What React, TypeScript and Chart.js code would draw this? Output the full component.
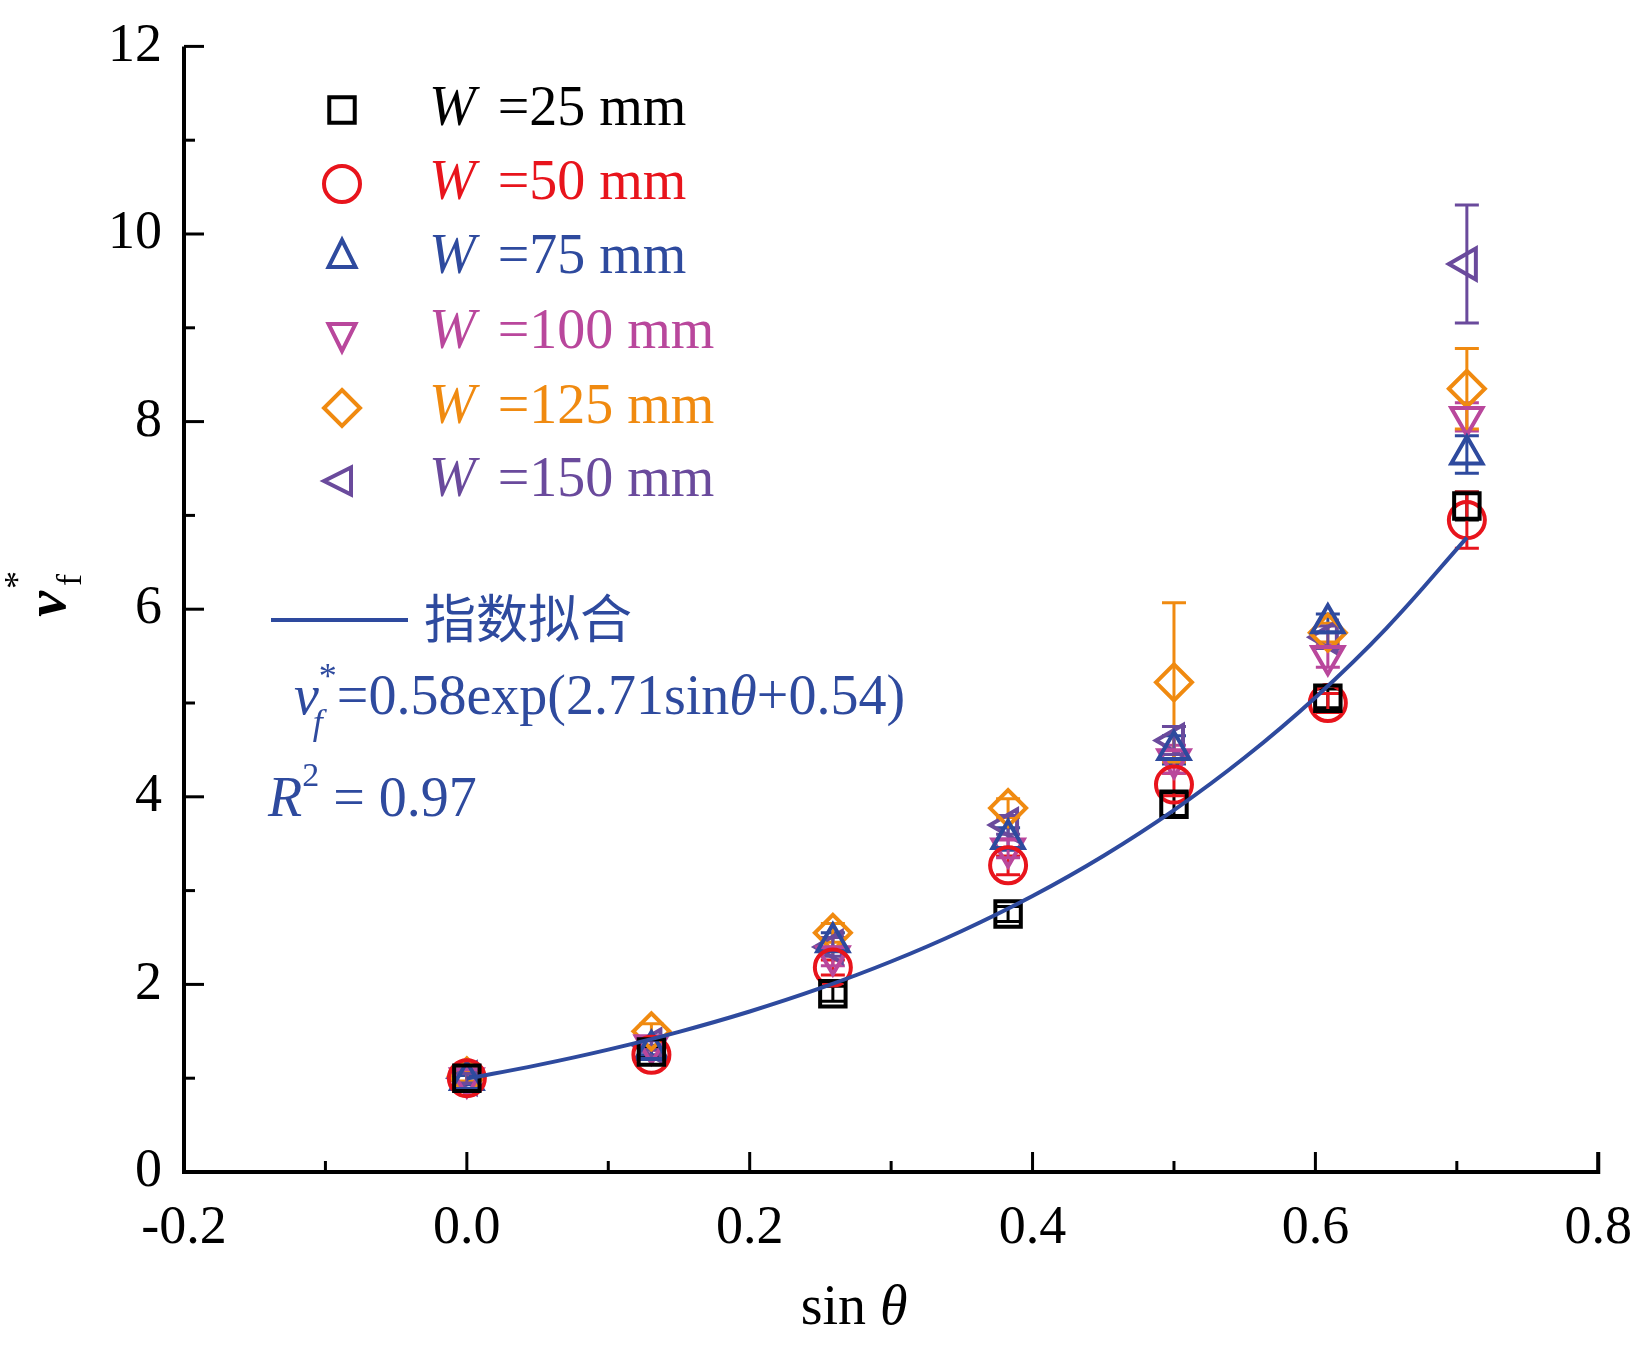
import React, { useEffect, useRef } from "react";
import { Chart, registerables } from "chart.js";
Chart.register(...registerables);

const xs = [0, 0.1305, 0.2588, 0.3827, 0.5, 0.6088, 0.7071];
const labels = ["25", "50", "75", "100", "125", "150"];
const colors = ["#000000", "#e8141c", "#2e4a9e", "#b9479c", "#f08a10", "#6a4a9c"];
const styles = ["rect", "circle", "triangle", "triangle", "rectRot", "triangle"];
const rotations = [0, 0, 0, 180, 0, -90];
const v25 = [1.0, 1.28, 1.9, 2.75, 3.92, 5.05, 7.1];
const v50 = [1.0, 1.25, 2.18, 3.27, 4.13, 5.0, 6.95];
const v75 = [0.98, 1.3, 2.45, 3.55, 4.5, 5.85, 7.65];
const v100 = [1.0, 1.35, 2.3, 3.45, 4.4, 5.5, 8.05];
const v125 = [1.02, 1.5, 2.55, 3.88, 5.22, 5.75, 8.35];
const v150 = [1.0, 1.35, 2.4, 3.7, 4.6, 5.7, 9.68];
const e25 = [0.05, 0.05, 0.08, 0.08, 0.12, 0.1, 0.15];
const e50 = [0.05, 0.05, 0.08, 0.1, 0.12, 0.1, 0.3];
const e75 = [0.05, 0.05, 0.1, 0.12, 0.15, 0.1, 0.2];
const e100 = [0.05, 0.05, 0.1, 0.1, 0.15, 0.12, 0.15];
const e125 = [0.05, 0.08, 0.1, 0.1, 0.85, 0.1, 0.43];
const e150 = [0.05, 0.05, 0.1, 0.1, 0.15, 0.12, 0.63];
const series = [v25, v50, v75, v100, v125, v150];
const errs = [e25, e50, e75, e100, e125, e150];
const fitX = [0, 0.05, 0.1, 0.15, 0.2, 0.25, 0.3, 0.35, 0.4, 0.45, 0.5, 0.55, 0.6, 0.65, 0.7071];
const fitA = 0.58, fitB = 2.71, fitC = 0.54;

const SERIF = "'Liberation Serif', 'DejaVu Serif', serif";

function marker(c: CanvasRenderingContext2D, style: string, rot: number, r: number, x: number, y: number) {
  c.save();
  c.translate(x, y);
  c.rotate((rot * Math.PI) / 180);
  c.beginPath();
  if (style === "circle") c.arc(0, 0, r, 0, Math.PI * 2);
  else if (style === "rect") { const h = r * Math.SQRT1_2; c.rect(-h, -h, 2 * h, 2 * h); }
  else if (style === "rectRot") { c.moveTo(0, -r); c.lineTo(r, 0); c.lineTo(0, r); c.lineTo(-r, 0); c.closePath(); }
  else { const s = r * 0.866 * 1.5; c.moveTo(0, -r); c.lineTo(s * 0.577 * 1.732 / 1.5 * 1.5 * 0.577, r * 0.5); c.lineTo(-s * 0.577 * 1.732 / 1.5 * 1.5 * 0.577, r * 0.5); c.closePath(); }
  c.stroke();
  c.restore();
}

export default function App() {
  const ref = useRef<HTMLCanvasElement>(null);
  useEffect(() => {
    const ctx = ref.current!.getContext("2d")!;
    const datasets: any[] = series.map((s, i) => ({
      type: "scatter",
      data: s.map((v, j) => ({ x: xs[j], y: v })),
      errs: errs[i],
      borderColor: colors[i],
      backgroundColor: "rgba(0,0,0,0)",
      pointStyle: styles[i],
      pointRotation: rotations[i],
      pointRadius: 18,
      borderWidth: 4,
      order: 2,
    }));
    datasets.unshift({
      type: "line",
      data: fitX.map((x) => ({ x, y: fitA * Math.exp(fitB * x + fitC) })),
      borderColor: "#2e4a9e",
      borderWidth: 4,
      pointRadius: 0,
      tension: 0.4,
      order: 1,
    });
    const plugin = {
      id: "extras",
      beforeDatasetsDraw(chart: any) {
        const c = chart.ctx;
        const xS = chart.scales.x, yS = chart.scales.y;
        chart.data.datasets.forEach((d: any) => {
          if (!d.errs) return;
          c.save();
          c.strokeStyle = d.borderColor;
          c.lineWidth = 3;
          d.data.forEach((p: any, j: number) => {
            const px = xS.getPixelForValue(p.x);
            const y1 = yS.getPixelForValue(p.y + d.errs[j]);
            const y2 = yS.getPixelForValue(p.y - d.errs[j]);
            c.beginPath();
            c.moveTo(px, y1); c.lineTo(px, y2);
            c.moveTo(px - 12, y1); c.lineTo(px + 12, y1);
            c.moveTo(px - 12, y2); c.lineTo(px + 12, y2);
            c.stroke();
          });
          c.restore();
        });
      },
      afterDraw(chart: any) {
        const c = chart.ctx;
        const xS = chart.scales.x, yS = chart.scales.y;
        const a = chart.chartArea;
        c.save();
        c.strokeStyle = "#000";
        c.lineWidth = 4;
        c.beginPath();
        c.moveTo(a.left, a.top); c.lineTo(a.left, a.bottom); c.lineTo(a.right, a.bottom); c.lineTo(a.right, a.bottom - 20);
        c.stroke();
        c.lineWidth = 3;
        for (let k = 0; k <= 10; k++) {
          const v = -0.2 + k * 0.1;
          const px = xS.getPixelForValue(v);
          const major = k % 2 === 0;
          c.beginPath(); c.moveTo(px, a.bottom); c.lineTo(px, a.bottom - (major ? 20 : 11)); c.stroke();
        }
        for (let v = 0; v <= 12; v += 1) {
          const py = yS.getPixelForValue(v);
          const major = v % 2 === 0;
          c.beginPath(); c.moveTo(a.left, py); c.lineTo(a.left + (major ? 20 : 11), py); c.stroke();
        }
        const rows = [110, 184, 258, 333, 408, 481];
        c.textBaseline = "middle";
        rows.forEach((y, i) => {
          c.strokeStyle = colors[i];
          c.lineWidth = 4;
          marker(c, styles[i], rotations[i], 18, 342, y);
          c.fillStyle = colors[i];
          c.font = `italic 56px ${SERIF}`;
          c.fillText("W", 429, y);
          const w = c.measureText("W").width;
          c.font = `56px ${SERIF}`;
          c.fillText(" =" + labels[i] + " mm", 429 + w + 8, y);
        });
        const blue = "#2e4a9e";
        c.strokeStyle = blue; c.lineWidth = 4;
        c.beginPath(); c.moveTo(271, 620); c.lineTo(408, 620); c.stroke();
        c.fillStyle = blue;
        c.font = `52px 'Noto Sans CJK SC'`;
        c.fillText("指数拟合", 424, 618);
        let x = 294;
        const put = (t: string, f: string, dy = 0) => { c.font = f; c.fillText(t, x, 699 + dy); x += c.measureText(t).width; };
        put("v", `italic 56px ${SERIF}`);
        const vx = x;
        c.font = `italic 36px ${SERIF}`; c.fillText("f", vx - 6, 725);
        put("*", `36px ${SERIF}`, -20);
        put("=0.58exp(2.71sin", `56px ${SERIF}`);
        put("θ", `italic 56px ${SERIF}`);
        put("+0.54)", `56px ${SERIF}`);
        x = 268;
        const put2 = (t: string, f: string, dy = 0) => { c.font = f; c.fillText(t, x, 801 + dy); x += c.measureText(t).width; };
        put2("R", `italic 56px ${SERIF}`);
        put2("2", `34px ${SERIF}`, -24);
        put2(" = 0.97", `56px ${SERIF}`);
        c.fillStyle = "#000";
        c.font = `56px ${SERIF}`;
        c.textAlign = "right";
        c.fillText("sin ", 880, 1309);
        c.textAlign = "left";
        c.font = `italic 56px ${SERIF}`;
        c.fillText("θ", 880, 1309);
        c.save();
        c.translate(50, 604);
        c.rotate(-Math.PI / 2);
        c.textAlign = "center";
        c.font = `bold italic 58px ${SERIF}`;
        c.fillText("v", 0, 0);
        c.font = `36px ${SERIF}`;
        c.fillText("*", 24, -30);
        c.fillText("f", 24, 22);
        c.restore();
        c.restore();
      },
    };
    const chart = new Chart(ctx, {
      type: "scatter",
      data: { datasets },
      options: {
        animation: false,
        responsive: false,
        layout: { padding: { top: 32, right: 38, left: 0, bottom: 0 } },
        plugins: { legend: { display: false }, tooltip: { enabled: false } },
        scales: {
          x: {
            type: "linear", min: -0.2, max: 0.8,
            grid: { display: false }, border: { display: false },
            afterFit: (s: any) => { s.height = 175; },
            afterBuildTicks: (s: any) => { s.ticks = [-0.2, 0, 0.2, 0.4, 0.6, 0.8].map((v) => ({ value: v })); },
            ticks: { color: "#000", font: { family: SERIF, size: 54 }, padding: 16, maxRotation: 0,
              callback: (v: any) => Number(v).toFixed(1) },
          },
          y: {
            type: "linear", min: 0, max: 12,
            grid: { display: false }, border: { display: false },
            afterFit: (s: any) => { s.width = 184; },
            afterBuildTicks: (s: any) => { s.ticks = [0, 2, 4, 6, 8, 10, 12].map((v) => ({ value: v })); },
            ticks: { color: "#000", font: { family: SERIF, size: 54 }, padding: 14 },
          },
        },
      } as any,
      plugins: [plugin],
    });
    return () => chart.destroy();
  }, []);
  return (
    <div style={{ position: "absolute", left: 0, top: 0, width: 1648, height: 1347, background: "#fff" }}>
      <canvas ref={ref} width={1648} height={1347} style={{ width: 1648, height: 1347 }} />
    </div>
  );
}
